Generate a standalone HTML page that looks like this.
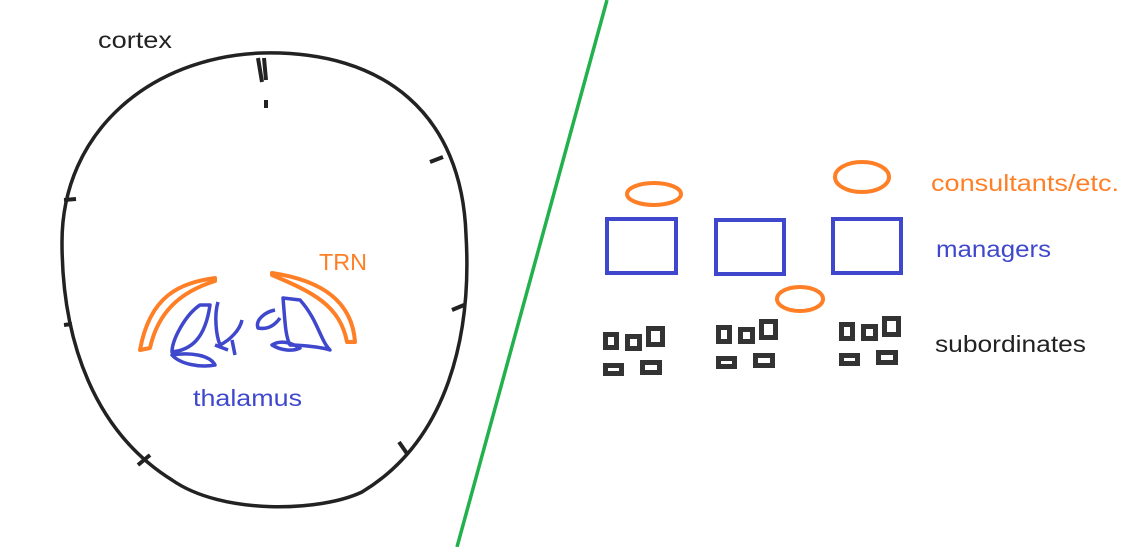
<!DOCTYPE html>
<html><head><meta charset="utf-8"><style>
body{margin:0;background:#fff;}
svg{display:block}
text{font-family:"Liberation Sans",sans-serif;font-size:23px}
</style></head><body>
<svg width="1147" height="547" viewBox="0 0 1147 547">
<rect width="1147" height="547" fill="#fff"/>
<!-- head -->
<path d="M262,53 C385,50 462,115 466,235 C472,335 448,440 362,492 C320,512 222,515 172,480 C95,432 62,342 62,242 C62,132 150,57 262,53 Z" fill="none" stroke="#222" stroke-width="3.5"/>
<g stroke="#222" stroke-width="4" fill="none">
<path d="M258,58 L262,82 M264,58 L266,80"/>
<path d="M266,100 L266,108"/>
<path d="M64,200 L76,199"/>
<path d="M430,162 L443,157"/>
<path d="M452,310 L464,305"/>
<path d="M64,325 L72,324"/>
<path d="M399,442 L408,455"/>
<path d="M138,465 L150,455"/>
</g>
<text x="98" y="48" fill="#222" textLength="74" lengthAdjust="spacingAndGlyphs">cortex</text>
<!-- TRN -->
<g fill="none" stroke="#ff7f27" stroke-width="4" stroke-linejoin="round">
<path d="M215,278 C180,283 150,295 140,350 L150,348 C158,312 180,292 215,281 Z"/>
<path d="M272,273 C320,280 352,300 355,342 L347,342 C340,305 312,292 272,275 Z"/>
</g>
<text x="319" y="270" fill="#ff7f27" textLength="48" lengthAdjust="spacingAndGlyphs">TRN</text>
<!-- thalamus -->
<g fill="none" stroke="#3f48cc" stroke-width="3.5" stroke-linejoin="round">
<path d="M200,305 C185,315 172,340 172,352 C190,350 205,340 210,305 Z"/>
<path d="M172,355 C190,352 210,355 215,365 C200,368 180,364 172,355 Z"/>
<path d="M218,302 C214,315 216,335 220,345 C230,340 240,330 242,320"/>
<path d="M215,345 L228,350 M232,340 L235,355"/>
<path d="M275,310 C265,312 255,320 258,328 C268,330 275,325 280,318"/>
<path d="M283,298 C285,320 285,335 290,345 C305,345 325,348 330,350 C320,340 318,320 300,300 Z"/>
<path d="M272,345 C280,350 292,352 300,348 C290,342 280,340 272,345 Z"/>
</g>
<text x="193" y="406" fill="#3f48cc" textLength="109" lengthAdjust="spacingAndGlyphs">thalamus</text>
<!-- divider -->
<line x1="607" y1="0" x2="457" y2="547" stroke="#22b14c" stroke-width="3.5"/>
<!-- consultants -->
<g fill="none" stroke="#ff7f27" stroke-width="4">
<ellipse cx="654" cy="194" rx="27" ry="11"/>
<ellipse cx="862" cy="177" rx="27" ry="15"/>
<ellipse cx="800" cy="299" rx="23" ry="12"/>
</g>
<!-- managers -->
<g fill="none" stroke="#3f48cc" stroke-width="4">
<rect x="607" y="219" width="69" height="54"/>
<rect x="716" y="220" width="68" height="54"/>
<rect x="833" y="219" width="68" height="54"/>
</g>
<!-- subordinates -->
<g fill="none" stroke="#333" stroke-width="5">
<rect x="605.5" y="334.5" width="11" height="13"/><rect x="627.5" y="336.5" width="12" height="12"/><rect x="648.5" y="328.5" width="14" height="16"/><rect x="605.5" y="365.5" width="16" height="8"/><rect x="642.5" y="362.5" width="17" height="10"/>
<rect x="718.5" y="327.5" width="11" height="14"/><rect x="740.5" y="329.5" width="12" height="12"/><rect x="761.5" y="321.5" width="14" height="16"/><rect x="718.5" y="358.5" width="16" height="8"/><rect x="755.5" y="355.5" width="17" height="10"/>
<rect x="841.5" y="324.5" width="11" height="14"/><rect x="863.5" y="326.5" width="12" height="12"/><rect x="884.5" y="318.5" width="14" height="16"/><rect x="841.5" y="355.5" width="16" height="8"/><rect x="878.5" y="352.5" width="17" height="10"/>
</g>
<text x="931" y="191" fill="#ff7f27" textLength="188" lengthAdjust="spacingAndGlyphs">consultants/etc.</text>
<text x="936" y="257" fill="#3f48cc" textLength="115" lengthAdjust="spacingAndGlyphs">managers</text>
<text x="935" y="352" fill="#222" textLength="151" lengthAdjust="spacingAndGlyphs">subordinates</text>
</svg>
</body></html>
